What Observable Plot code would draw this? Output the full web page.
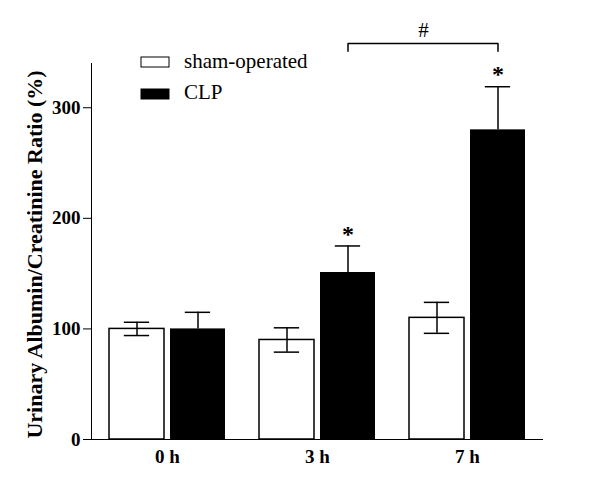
<!DOCTYPE html>
<html><head><meta charset="utf-8">
<script src="https://cdn.jsdelivr.net/npm/d3@7"></script>
<script src="https://cdn.jsdelivr.net/npm/@observablehq/plot@0.6"></script>
<style>body{margin:0;background:#fff} #chart{width:600px;height:479px}</style>
</head><body><div id="chart"></div>
<script>
const times = ["0 h", "3 h", "7 h"];
const groups = ["sham-operated", "CLP"];
const shamMean = [100, 90, 110];
const shamSem = [6, 11, 14];
const clpMean = [100, 151, 280];
const clpSem = [15, 24, 39];
const clpStar = [false, true, true];
const bracketTimes = ["3 h", "7 h"];
const bracketLabel = "#";
const yLabel = "Urinary Albumin/Creatinine Ratio (%)";

const rows = times.map((t, i) => ({
  time: t, sham: shamMean[i], shamSem: shamSem[i],
  clp: clpMean[i], clpSem: clpSem[i], star: clpStar[i]
}));

const serif = "'Liberation Serif', 'Times New Roman', serif";
const bracketTop = 358, bracketFoot = 351, bracketText = 370;
const bracketPts = [
  {t: bracketTimes[0], v: bracketFoot}, {t: bracketTimes[0], v: bracketTop},
  {t: bracketTimes[1], v: bracketTop}, {t: bracketTimes[1], v: bracketFoot}
];

const plot = Plot.plot({
  width: 600, height: 479,
  marginLeft: 91, marginRight: 58, marginTop: 63, marginBottom: 40,
  style: {fontFamily: serif, fontSize: "19px", fontWeight: "bold", background: "white", color: "black"},
  x: {domain: times, type: "band", paddingInner: 0.227, paddingOuter: 0.107, tickSize: 0, tickPadding: 10, label: null, line: true},
  y: {domain: [0, 340], ticks: 4, tickSize: 8, tickPadding: 3, label: null, line: true},
  marks: [
    Plot.text([yLabel], {frameAnchor: "left", textAnchor: "middle", text: d => d, rotate: -90, dx: -57, dy: 3, fontSize: 22, fontWeight: "bold"}),
    Plot.barY(rows, {x: "time", y: "sham", fill: "white", stroke: "black", strokeWidth: 1.5, insetRight: 61}),
    Plot.barY(rows, {x: "time", y: "clp", fill: "black", insetLeft: 61}),
    Plot.ruleX(rows, {x: "time", y1: d => d.sham - d.shamSem, y2: d => d.sham + d.shamSem, dx: -30.5, stroke: "black", strokeWidth: 1.5}),
    Plot.tickY(rows, {x: "time", y: d => d.sham + d.shamSem, insetLeft: 14.8, insetRight: 75.9, stroke: "black", strokeWidth: 1.5}),
    Plot.tickY(rows, {x: "time", y: d => d.sham - d.shamSem, insetLeft: 14.8, insetRight: 75.9, stroke: "black", strokeWidth: 1.5}),
    Plot.ruleX(rows, {x: "time", y1: "clp", y2: d => d.clp + d.clpSem, dx: 30.5, stroke: "black", strokeWidth: 1.5}),
    Plot.tickY(rows, {x: "time", y: d => d.clp + d.clpSem, insetLeft: 75.8, insetRight: 14.9, stroke: "black", strokeWidth: 1.5}),
    Plot.text(rows.filter(d => d.star), {x: "time", y: d => d.clp + d.clpSem, text: () => "*", dx: 30.5, dy: -12, fontSize: 24, fontWeight: "bold"}),
    Plot.line(bracketPts, {x: "t", y: "v", dx: 30.5, stroke: "black", strokeWidth: 1.5}),
    Plot.text([bracketLabel], {x: () => bracketTimes[0], y: () => bracketText, text: d => d, dx: 106, fontSize: 21, fontWeight: "normal"})
  ]
});
document.getElementById("chart").appendChild(plot);

// legend
const svg = d3.select(plot);
const leg = svg.append("g").attr("font-family", serif).attr("font-size", 21)
  .attr("font-weight", "normal").attr("text-anchor", "start");
groups.forEach((g, i) => {
  leg.append("rect").attr("x", 141).attr("y", 57 + i * 32).attr("width", 28).attr("height", 10)
    .attr("fill", i === 0 ? "white" : "black").attr("stroke", "black").attr("stroke-width", 1);
  leg.append("text").attr("x", 184).attr("y", 68 + i * 31).attr("fill", "black").text(g);
});
</script></body></html>
